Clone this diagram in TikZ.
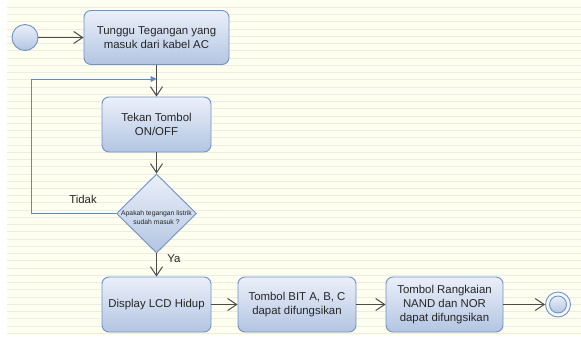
\documentclass[tikz,border=0pt]{standalone}
\usepackage{fontspec}
\setmainfont{Liberation Sans}
\usetikzlibrary{arrows.meta,shapes.geometric}

\definecolor{paper}{HTML}{FFFFF0}
\definecolor{paperline}{HTML}{ECECE6}
\definecolor{boxline}{HTML}{6F93C6}
\definecolor{boxtop}{HTML}{EBF0F9}
\definecolor{boxbot}{HTML}{B3C5E2}
\definecolor{loopblue}{HTML}{5F88C0}

\tikzset{
  actbox/.style={draw=boxline, line width=0.9pt, rounded corners=7pt,
    top color=boxtop, bottom color=boxbot, align=center, inner sep=0pt,
    minimum height=55pt, text=black!85,
    font=\fontsize{11.4}{13.6}\selectfont},
  decbox/.style={diamond, draw=boxline, line width=0.9pt, top color=boxtop,
    bottom color=boxbot, inner sep=0pt, minimum width=80pt, minimum height=79pt},
  dot/.style={circle, draw=boxline, line width=0.9pt, top color=boxtop,
    bottom color=boxbot, inner sep=0pt, minimum size=26pt},
  flow/.style={draw=black!70, line width=1pt,
    -{Straight Barb[length=9pt,width=12pt]}},
  back/.style={draw=loopblue, line width=1pt, -{Triangle[length=6pt,width=6pt]}},
  lbl/.style={text=black!85, font=\fontsize{11.4}{13.6}\selectfont}
}

\begin{document}
\begin{tikzpicture}[x=1pt,y=-1pt]
    \useasboundingbox (0,0) rectangle (581,338);
    \fill[paper] (7,1) rectangle (581,336);
    \foreach \k in {0,...,45}
      \draw[paperline, line width=0.8pt] (7,7.4+7.24*\k) -- (581,7.4+7.24*\k);

    \node[dot] (start) at (25,37.5) {};
    \node[actbox, minimum width=145pt, minimum height=54pt] (wait) at (156.5,37.5)
      {Tunggu Tegangan yang\\masuk dari kabel AC};
    \node[actbox, minimum width=109pt] (press) at (156.5,124.5) {Tekan Tombol\\ON/OFF};
    \node[decbox] (check) at (156.5,213.5) {};
    \node[align=center, inner sep=0pt, text=black!85,
      font=\fontsize{6.8}{9}\selectfont] (checktext) at (156.5,217.5)
      {Apakah tegangan listrik\\sudah masuk ?};
    \node[actbox, minimum width=109pt] (lcd) at (156.5,304.5) {Display LCD Hidup};
    \node[actbox, minimum width=118pt] (bit) at (297,304.5) {Tombol BIT A, B, C\\dapat difungsikan};
    \node[actbox, minimum width=117pt] (gate) at (444.5,304.5)
      {Tombol Rangkaian\\NAND dan NOR\\dapat difungsikan};
    \node[circle, draw=boxline, line width=0.9pt, fill=boxtop!60, inner sep=0pt,
      minimum size=25pt] (stop) at (558,304.5) {};
    \node[dot, minimum size=17pt] (stopcore) at (stop) {};

    \node[lbl] (no) at (83,199) {Tidak};
    \node[lbl] (yes) at (174,259) {Ya};

    \coordinate (join) at (156.5,79);
    \draw[flow] (start) -- (wait);
    \draw[flow] (wait) -- (press);
    \draw[flow] (press) -- (check);
    \draw[flow] (check) -- (lcd);
    \draw[flow] (lcd) -- (bit);
    \draw[flow] (bit) -- (gate);
    \draw[flow] (gate) -- (stop);
    \draw[back] (check.west) -- (31,213.5) |- (join);
\end{tikzpicture}
\end{document}
